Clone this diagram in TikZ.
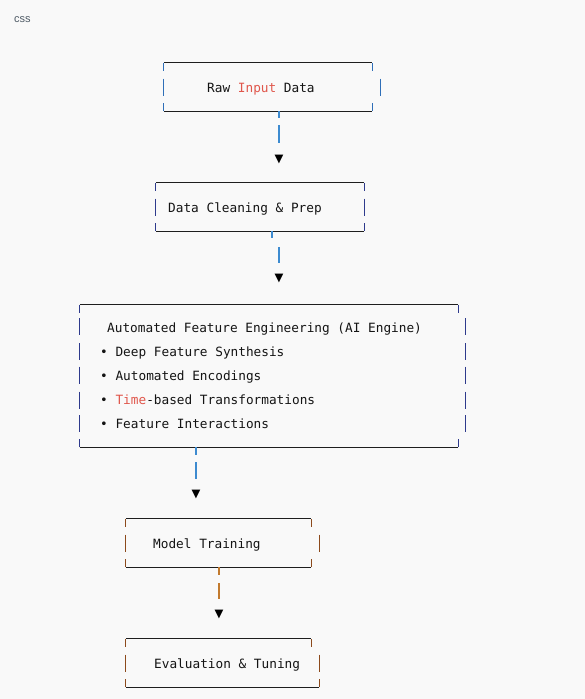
\documentclass[tikz,border=0pt]{standalone}
\usepackage{fontspec}
\setmainfont{Liberation Sans}
\setmonofont{DejaVu Sans Mono}
\newfontfamily\symfont{DejaVu Sans}
\usepackage{xcolor}
\usetikzlibrary{positioning, calc}
\definecolor{CodeBg}{HTML}{F9F9F9}
\definecolor{CodeInk}{HTML}{141414}
\definecolor{CodeRule}{HTML}{1E1E1E}
\definecolor{CodeKey}{HTML}{E0564B}
\definecolor{CodeTag}{HTML}{4F5B66}
\definecolor{BarBlue}{HTML}{2F6FB8}
\definecolor{BarNavy}{HTML}{2E3A8C}
\definecolor{BarBrown}{HTML}{8C4A1C}
\definecolor{LinkBlue}{HTML}{3D8BD0}
\definecolor{LinkOrange}{HTML}{C27A2E}
\newcommand{\kw}[1]{\textcolor{CodeKey}{#1}}
\tikzset{
    % empty frame node, the ascii border is drawn round it
    framebox/.style={
        rectangle,
        draw=none,
        inner sep=0pt
    },
    boxtext/.style={
        anchor=base west,
        inner sep=0pt,
        text=CodeInk,
        font=\fontsize{12.75}{15}\ttfamily
    },
    % line styles
    hrule/.style={
        draw=CodeRule,
        line width=1pt
    },
    vbar/.style={
        line width=1.1pt
    },
    link/.style={
        line width=1.1pt
    },
    tipmark/.style={
        inner sep=0pt,
        text=black,
        font=\symfont\fontsize{11.5}{11.5}\selectfont
    }
}

\begin{document}
\begin{tikzpicture}[x=1pt, y=-1pt]
    \fill[CodeBg] (0,0) rectangle (585,699);
    \useasboundingbox (0,0) rectangle (585,699);
    \node[anchor=west, inner sep=0pt, text=CodeTag, font=\fontsize{11}{11}\selectfont] (lang) at (14,20) {css};

    % boxes
    \node[framebox, minimum width=208pt, minimum height=48pt] (raw) at (268,87) {};
    \node[framebox, minimum width=208pt, minimum height=48pt] (clean) at (260,207) {};
    \node[framebox, minimum width=378pt, minimum height=142pt] (afe) at (269,376) {};
    \node[framebox, minimum width=185pt, minimum height=48pt] (train) at (218.5,543) {};
    \node[framebox, minimum width=185pt, minimum height=48pt] (eval) at (218.5,663) {};

    \foreach \b/\c/\s in {raw/BarBlue/0, clean/BarNavy/0, afe/BarNavy/0, train/BarBrown/0, eval/BarBrown/8} {
        \draw[hrule] (\b.north west) -- (\b.north east);
        \draw[hrule] (\b.south west) -- ($(\b.south east)+(\s,0)$);
        \draw[vbar, \c] (\b.north west) -- ++(0,8);
        \draw[vbar, \c] (\b.north east) -- ++(0,8);
        \draw[vbar, \c] (\b.south west) -- ++(0,-8);
        \draw[vbar, \c] ($(\b.south east)+(\s,0)$) -- ++(0,-8);
    }
    % side bars
    \foreach \b/\c/\r in {raw/BarBlue/8, clean/BarNavy/0, train/BarBrown/8, eval/BarBrown/8} {
        \draw[vbar, \c] ($(\b.west)+(0,-8.5)$) -- ++(0,17);
        \draw[vbar, \c] ($(\b.east)+(\r,-8.5)$) -- ++(0,17);
    }
    \foreach \dy in {-49.5,-24.5,-1,24,47.5} {
        \draw[vbar, BarNavy] ($(afe.west)+(0,\dy-8.5)$) -- ++(0,17);
        \draw[vbar, BarNavy] ($(afe.east)+(7,\dy-8.5)$) -- ++(0,17);
    }

    % texts
    \node[boxtext] (rawtxt) at (207,92) {Raw \kw{Input} Data};
    \node[boxtext] (cleantxt) at (168,212) {Data Cleaning \& Prep};
    \node[boxtext] (afetxt) at (107,332.5) {Automated Feature Engineering (AI Engine)};
    \node[boxtext] (dfs) at (100,356.5) {• Deep Feature Synthesis};
    \node[boxtext] (enc) at (100,380.5) {• Automated Encodings};
    \node[boxtext] (tbt) at (100,404.5) {• \kw{Time}-based Transformations};
    \node[boxtext] (fia) at (100,428) {• Feature Interactions};
    \node[boxtext] (traintxt) at (153,548) {Model Training};
    \node[boxtext] (evaltxt) at (154,668) {Evaluation \& Tuning};

    % connectors
    \node[tipmark] (tip1) at (279,159.5) {▼};
    \node[tipmark] (tip2) at (279,279) {▼};
    \node[tipmark] (tip3) at (196,495) {▼};
    \node[tipmark] (tip4) at (219,615) {▼};

    \draw[link, LinkBlue] (raw.south -| tip1) -- ++(0,7);
    \draw[link, LinkBlue] (raw.south -| tip1) ++(0,14) -- ++(0,18);
    \draw[link, LinkBlue] ($(clean.south)+(12,0)$) -- ++(0,7);
    \draw[link, LinkBlue] (clean.south -| tip2) ++(0,16) -- ++(0,16);
    \draw[link, LinkBlue] (afe.south -| tip3) -- ++(0,8);
    \draw[link, LinkBlue] (afe.south -| tip3) ++(0,15) -- ++(0,17);
    \draw[link, LinkOrange] (train.south -| tip4) -- ++(0,8);
    \draw[link, LinkOrange] (train.south -| tip4) ++(0,16) -- ++(0,16);
\end{tikzpicture}
\end{document}
